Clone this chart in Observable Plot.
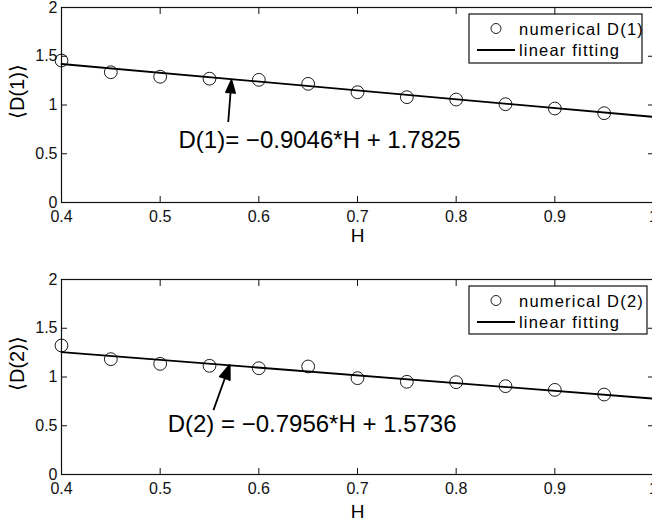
<!DOCTYPE html>
<html><head><meta charset="utf-8">
<script src="https://cdn.jsdelivr.net/npm/d3@7"></script>
<script src="https://cdn.jsdelivr.net/npm/@observablehq/plot@0.6"></script>
<style>
html,body{margin:0;padding:0;background:#fff;overflow:hidden;width:652px;height:521px}
#chart{position:relative;width:652px;height:521px;background:#fff}
#chart svg{display:block}
</style></head><body><div id="chart"></div>
<script>
// ---- data ----
const H  = [0.40, 0.45, 0.50, 0.55, 0.60, 0.65, 0.70, 0.75, 0.80, 0.85, 0.90, 0.95];
const D1 = [1.456, 1.336, 1.290, 1.270, 1.258, 1.217, 1.131, 1.080, 1.056, 1.008, 0.964, 0.916];
const D2 = [1.323, 1.183, 1.135, 1.115, 1.090, 1.108, 0.988, 0.951, 0.947, 0.906, 0.868, 0.820];
const fitH = [0.4, 1.0];
const fit1 = [1.4207, 0.8779];
const fit2 = [1.2554, 0.7780];
const xTicks = [0.4, 0.5, 0.6, 0.7, 0.8, 0.9, 1];
const xTickLabels = ["0.4", "0.5", "0.6", "0.7", "0.8", "0.9", "1"];
const yTicks = [0, 0.5, 1, 1.5, 2];
const yTickLabels = ["0", "0.5", "1", "1.5", "2"];
const yLabels = ["\u27E8D(1)\u27E9", "\u27E8D(2)\u27E9"];
const legendLabels = [["numerical D(1)", "linear fitting"], ["numerical D(2)", "linear fitting"]];
const equations = ["D(1)= \u22120.9046*H + 1.7825", "D(2) = \u22120.7956*H + 1.5736"];
const xLabel = "H";

// annotation anchors (data coordinates)
const eqAnchors = [{x: 0.6616, y: 0.562}, {x: 0.654, y: 0.44}];
const arrows = [
  {x1: 0.569, y1: 0.826, x2: 0.5723, y2: 1.254},
  {x1: 0.554, y1: 0.660, x2: 0.5705, y2: 1.125}
];

const FONT = "'Liberation Sans', Arial, Helvetica, sans-serif";
const INK = "#111";

function panel(k, cfg) {
  const vals = k === 0 ? D1 : D2;
  const fit = k === 0 ? fit1 : fit2;
  const pts = H.map((h, i) => ({H: h, D: vals[i]}));
  const fitPts = fitH.map((h, i) => ({H: h, D: fit[i]}));
  const fmtX = (d) => xTickLabels[xTicks.indexOf(d)];
  const fmtY = (d) => yTickLabels[yTicks.indexOf(d)];
  const none = () => "";
  const svg = Plot.plot({
    width: 652, height: cfg.height,
    marginTop: cfg.marginTop, marginBottom: cfg.marginBottom, marginLeft: 61, marginRight: -1,
    style: {fontFamily: FONT, fontSize: "16px", color: INK, background: "transparent", overflow: "visible"},
    x: {domain: [0.4, 1], label: null},
    y: {domain: [0, 2], label: null},
    marks: [
      Plot.frame({stroke: INK, strokeWidth: 1.2}),
      Plot.axisX(xTicks, {anchor: "bottom", tickSize: 0, tickPadding: 8.5, tickFormat: fmtX, fontSize: 16, label: null}),
      Plot.axisX(xTicks, {anchor: "bottom", tickSize: 6, dy: -6, tickFormat: none, label: null, stroke: INK}),
      Plot.axisX(xTicks, {anchor: "top", tickSize: 6, dy: 6, tickFormat: none, label: null, stroke: INK}),
      Plot.axisY(yTicks, {anchor: "left", tickSize: 0, tickPadding: 4, tickFormat: fmtY, fontSize: 16, label: null}),
      Plot.axisY(yTicks, {anchor: "left", tickSize: 6, dx: 6, tickFormat: none, label: null, stroke: INK}),
      Plot.axisY(yTicks, {anchor: "right", tickSize: 6, dx: -6, tickFormat: none, label: null, stroke: INK}),
      Plot.line(fitPts, {x: "H", y: "D", stroke: "#000", strokeWidth: 1.8}),
      Plot.dot(pts, {x: "H", y: "D", r: 6.4, stroke: "#000", strokeWidth: 0.9, fill: "none"}),
      Plot.arrow([arrows[k]], {x1: "x1", y1: "y1", x2: "x2", y2: "y2", stroke: "#000", fill: "#000",
        strokeWidth: 1.8, headLength: 14, headAngle: 40, strokeLinecap: "butt"}),
      Plot.text([{...eqAnchors[k], t: equations[k]}], {x: "x", y: "y", text: "t", fontSize: 24,
        lineAnchor: "bottom", textAnchor: "middle", fill: "#000"}),
      Plot.text([xLabel], {frameAnchor: "bottom", dy: cfg.xLabelDy, lineAnchor: "bottom", fontSize: 19, fill: "#000"}),
      Plot.text([yLabels[k]], {frameAnchor: "left", dx: -43.5, dy: 14, rotate: -90, fontSize: 20, fill: "#000"})
    ]
  });
  // legend box
  const b = cfg.legend;
  const g = d3.select(svg).append("g").attr("font-family", FONT).attr("font-size", "16.5px")
    .attr("text-anchor", "start");
  g.append("rect").attr("x", b.x).attr("y", b.y).attr("width", b.w).attr("height", b.h)
    .attr("fill", "#fff").attr("stroke", INK).attr("stroke-width", 1.2);
  g.append("circle").attr("cx", b.x + 27).attr("cy", b.y + 14.5).attr("r", 5)
    .attr("fill", "none").attr("stroke", "#000").attr("stroke-width", 0.9);
  g.append("line").attr("x1", b.x + 8).attr("x2", b.x + 46).attr("y1", b.y + 36).attr("y2", b.y + 36)
    .attr("stroke", "#000").attr("stroke-width", 1.8);
  g.append("text").attr("x", b.x + 50).attr("y", b.y + 20.5).attr("letter-spacing", "1.2px")
    .attr("text-anchor", "start").attr("fill", "#000").text(legendLabels[k][0]);
  g.append("text").attr("x", b.x + 50).attr("y", b.y + 41.5).attr("letter-spacing", "1.2px")
    .attr("text-anchor", "start").attr("fill", "#000").text(legendLabels[k][1]);
  return svg;
}

const chart = document.getElementById("chart");
chart.append(panel(0, {height: 260, marginTop: 7, marginBottom: 58, xLabelDy: 39, legend: {x: 469, y: 14, w: 173, h: 49}}));
chart.append(panel(1, {height: 261, marginTop: 19, marginBottom: 47, xLabelDy: 43, legend: {x: 469, y: 26, w: 178, h: 48}}));
</script></body></html>
